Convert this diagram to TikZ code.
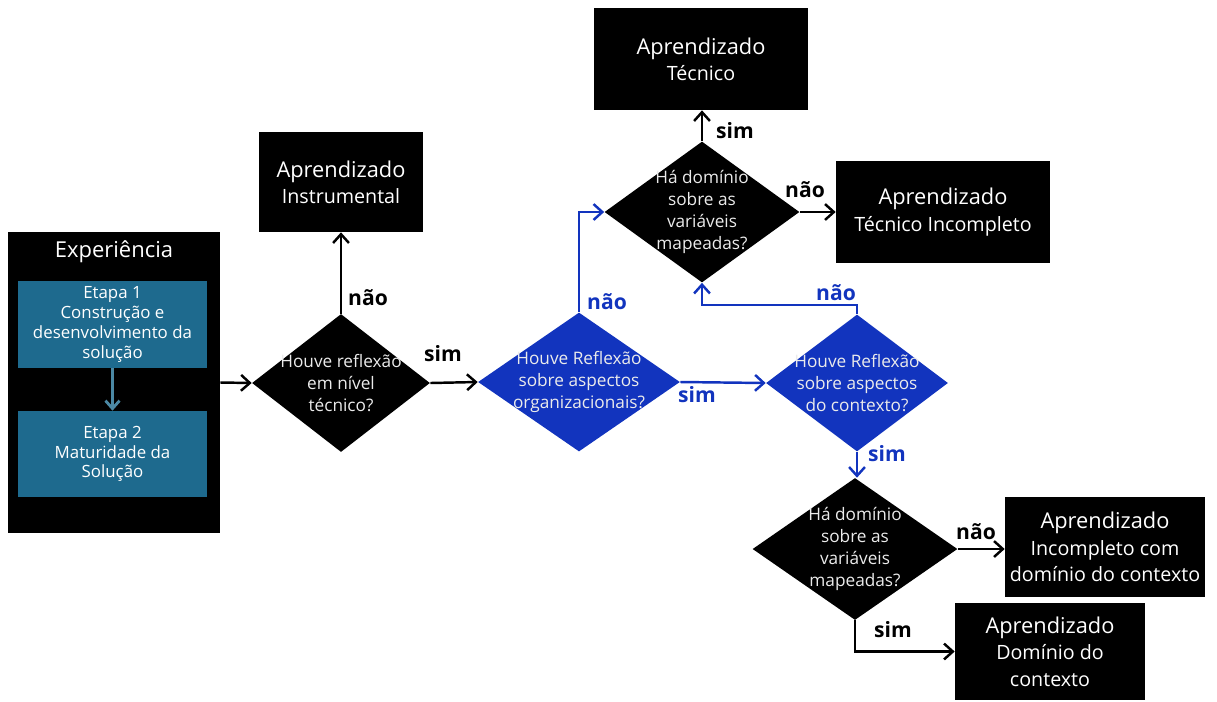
\documentclass[tikz,border=0pt]{standalone}
\usepackage{fontspec}
\setmainfont{Open Sans}
\usetikzlibrary{arrows.meta, positioning, shapes.geometric}

\definecolor{etapateal}{RGB}{30,106,142}
\definecolor{refblue}{RGB}{18,52,190}
\definecolor{diatext}{RGB}{235,235,235}

\tikzset{
  blackbox/.style={rectangle, fill=black, text=white, align=center, inner sep=0pt,
    font=\fontsize{11}{15}\selectfont},
  etapabox/.style={rectangle, fill=etapateal, text=white, align=center, inner sep=0pt,
    font=\fontsize{9.6}{11.2}\selectfont},
  dia/.style={diamond, fill=black, inner sep=0pt},
  bluedia/.style={diamond, fill=refblue, inner sep=0pt},
  diatxt/.style={text=diatext, align=center, inner sep=0pt, font=\fontsize{9.8}{12.6}\selectfont},
  lbl/.style={font=\bfseries\fontsize{12}{14}\selectfont},
  bluelbl/.style={lbl, text=refblue},
  arr/.style={-{Straight Barb[length=5pt,width=9pt]}, line width=1.4pt, black},
  arrb/.style={arr, refblue},
  arrteal/.style={-{Straight Barb[length=4.5pt,width=8pt]}, line width=1.6pt, etapateal!80!white}
}
\newcommand{\ttl}[1]{{\fontsize{12.4}{15}\selectfont #1}}
\newcommand{\sub}[1]{{\fontsize{11.2}{15}\selectfont #1}}

\begin{document}
\begin{tikzpicture}[x=0.02cm, y=-0.02cm]
  \useasboundingbox (0,0) rectangle (1217,701);

  % Experiencia with its two steps
  \node[blackbox, minimum width=4.24cm, minimum height=6.02cm] (exp) at (114,382.5) {};
  \node[text=white, font=\fontsize{12.5}{15}\selectfont] (exptitle) at (114,252) {Experiência};
  \node[etapabox, minimum width=3.78cm, minimum height=1.74cm] (etapa1) at (112.5,324.5)
    {Etapa 1\\Construção e\\desenvolvimento da\\solução};
  \node[etapabox, minimum width=3.78cm, minimum height=1.72cm] (etapa2) at (112.5,454)
    {Etapa 2\\Maturidade da\\Solução};
  \draw[arrteal] (etapa1) -- (etapa2);

  % Questions
  \node[dia, minimum width=3.56cm, minimum height=2.76cm] (q1) at (341,383) {};
  \node[diatxt] (q1txt) at (q1) {Houve reflexão\\em nível\\técnico?};
  \node[bluedia, minimum width=4.04cm, minimum height=2.78cm] (q2) at (579,382) {};
  \node[diatxt] (q2txt) at (q2) {Houve Reflexão\\sobre aspectos\\organizacionais?};
  \node[dia, minimum width=3.9cm, minimum height=2.82cm] (q3) at (702,212) {};
  \node[diatxt] (q3txt) at (q3) {Há domínio\\sobre as\\variáveis\\mapeadas?};
  \node[bluedia, minimum width=3.64cm, minimum height=2.74cm] (q4) at (857,383) {};
  \node[diatxt] (q4txt) at (q4) {Houve Reflexão\\sobre aspectos\\do contexto?};
  \node[dia, minimum width=4.1cm, minimum height=2.84cm] (q5) at (855,549) {};
  \node[diatxt] (q5txt) at (q5) {Há domínio\\sobre as\\variáveis\\mapeadas?};

  % Results
  \node[blackbox, minimum width=3.28cm, minimum height=2cm] (instr) at (341,182)
    {\ttl{Aprendizado}\\\sub{Instrumental}};
  \node[blackbox, minimum width=4.28cm, minimum height=2.04cm] (tec) at (701,59)
    {\ttl{Aprendizado}\\\sub{Técnico}};
  \node[blackbox, minimum width=4.28cm, minimum height=2.04cm] (tecinc) at (943,212)
    {\ttl{Aprendizado}\\\sub{Técnico Incompleto}};
  \node[blackbox, minimum width=4cm, minimum height=2cm] (inccon) at (1105,547)
    {\ttl{Aprendizado}\\\sub{Incompleto com}\\\sub{domínio do contexto}};
  \node[blackbox, minimum width=3.8cm, minimum height=1.94cm] (dom) at (1050,651.5)
    {\ttl{Aprendizado}\\\sub{Domínio do}\\\sub{contexto}};

  % Connectors
  \draw[arr] (exp.east) -- (q1.west);
  \draw[arr] (q1.north) -- (instr.south);
  \draw[arr] (q1.east) -- (q2.west);
  \draw[arrb] (q2.north) |- (q3.west);
  \draw[arr] (q3.north) -- (q3.north |- tec.south);
  \draw[arr] (q3.east) -- (tecinc.west);
  \draw[arrb] (q2.east) -- (q4.west);
  \draw[arrb] (q4.north) -- ++(0,-9) -| (q3.south);
  \draw[arrb] (q4.south) -- (q4.south |- q5.north);
  \draw[arr] (q5.east) -- (q5.east -| inccon.west);
  \draw[arr] (q5.south) |- (dom.west);

  % Answers
  \node[lbl] (l1) at (368,298) {não};
  \node[lbl] (l2) at (443,354) {sim};
  \node[bluelbl] (l3) at (607,302) {não};
  \node[bluelbl] (l4) at (697,395) {sim};
  \node[lbl] (l5) at (735,131) {sim};
  \node[lbl] (l6) at (805,190) {não};
  \node[bluelbl] (l7) at (836,293) {não};
  \node[bluelbl] (l8) at (887,454) {sim};
  \node[lbl] (l9) at (976,532) {não};
  \node[lbl] (l10) at (893,630) {sim};
\end{tikzpicture}
\end{document}
